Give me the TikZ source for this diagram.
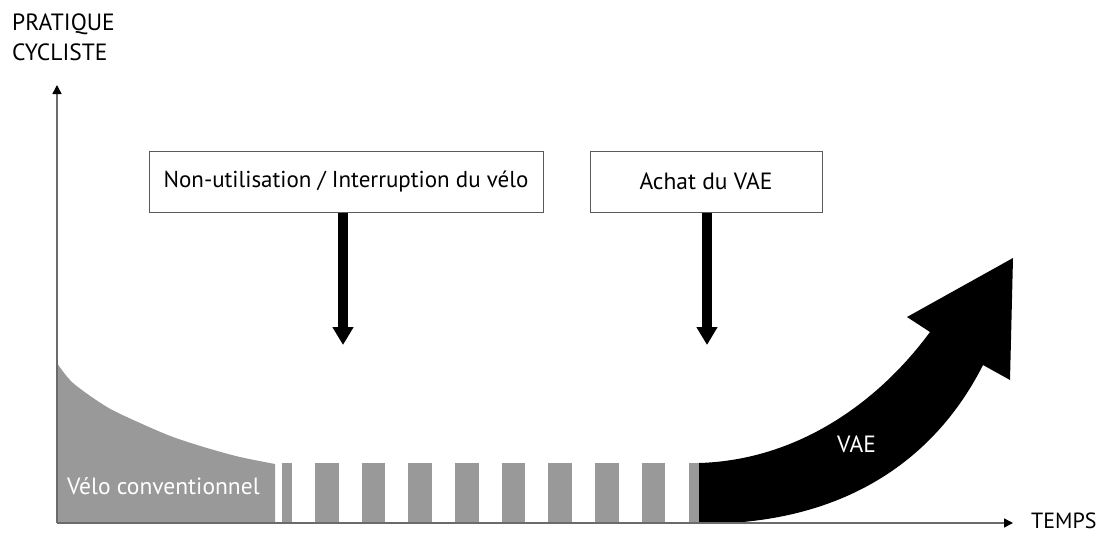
\documentclass[tikz,border=0pt]{standalone}
\usepackage{fontspec}
\setmainfont{PT Sans}
\usetikzlibrary{arrows.meta}
\definecolor{bargray}{HTML}{999999}
\definecolor{axisgray}{HTML}{6B6B6B}
\definecolor{framegray}{HTML}{5A5A5A}
\begin{document}
\begin{tikzpicture}[x=1pt,y=-1pt,
  lbl/.style={inner sep=0pt,font=\fontsize{23.5}{28}\selectfont},
  whitelbl/.style={lbl,text=white},
  eventbox/.style={draw=framegray,line width=1pt,fill=white,inner sep=0pt,
    minimum height=61pt,font=\fontsize{23.5}{28}\selectfont},
  stripe/.style={fill=bargray,draw=none},
  axisline/.style={draw=axisgray,line width=1.5pt,
    -{Triangle[width=9pt,length=9pt,color=black]}},
  dropline/.style={line width=10pt,-{Triangle[width=20pt,length=18pt]}}]
\useasboundingbox (0,0) rectangle (1100,533);

% conventional cycling: decaying grey area
\fill[bargray] (57,523) -- plot[smooth] coordinates {(57,363) (73,383) (107,407)
  (140,423) (173,437) (207,448) (240,457) (275,464)} -- (275,523) -- cycle;

% interruption: grey stripes
\fill[stripe] (282,463) rectangle (292,523);
\foreach \s in {315,361.7,408.3,455,501.7,548.3,595,641.7}
  \fill[stripe] (\s,463) rectangle ({\s+23.5},523);
\fill[stripe] (689,463) rectangle (699,523);

% e-bike: rising black arrow
\fill[black] (699,523) -- (699,463) .. controls (800,460) and (880,400) .. (930,332)
  -- (907,317) -- (1013,258) -- (1010,380) -- (983,365)
  .. controls (940,450) and (860,515) .. (730,523) -- cycle;

% axes
\coordinate (O) at (57,523);
\coordinate (ytip) at (57,85);
\coordinate (xtip) at (1013,523);
\draw[axisline] (O) -- (ytip);
\draw[axisline] (O) -- (xtip);

% axis titles
\node[lbl,anchor=base west] (ytitle1) at (12,30) {PRATIQUE};
\node[lbl,anchor=base west] (ytitle2) at (12,60) {CYCLISTE};
\node[lbl,anchor=base west,font=\fontsize{22}{26}\selectfont] (xtitle) at (1031,528) {TEMPS};

% area labels
\node[whitelbl,anchor=base west] (velo) at (67,494) {Vélo conventionnel};
\node[whitelbl,anchor=base west] (vae) at (837,452) {VAE};

% events
\node[eventbox,minimum width=394pt,font=\fontsize{23}{27}\selectfont] (stop) at (346,181.5) {Non-utilisation / Interruption du vélo};
\node[eventbox,minimum width=232pt] (buy) at (706,181.5) {Achat du VAE};
\coordinate (stoptip) at (343,345);
\coordinate (buytip) at (707,345);
\draw[dropline] (stop.south -| stoptip) -- (stoptip);
\draw[dropline] (buy.south -| buytip) -- (buytip);
\end{tikzpicture}
\end{document}
